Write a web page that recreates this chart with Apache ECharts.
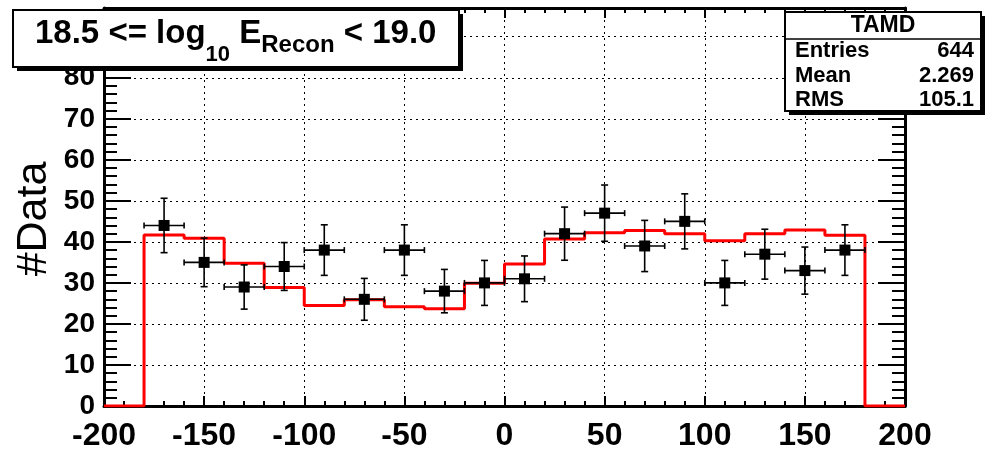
<!DOCTYPE html>
<html>
<head>
<meta charset="utf-8">
<script src="https://cdn.jsdelivr.net/npm/echarts@6/dist/echarts.min.js"></script>
<style>
  html, body { margin: 0; padding: 0; background: #ffffff; }
  #chart { width: 990px; height: 461px; }
</style>
</head>
<body>
<div id="chart"></div>
<script>
// Measured counts per bin (points with Poisson errors)
const binCenters = [-170, -150, -130, -110, -90, -70, -50, -30, -10, 10, 30, 50, 70, 90, 110, 130, 150, 170];
const dataCounts = [44, 35, 29, 34, 38, 26, 38, 28, 30, 31, 42, 47, 39, 45, 30, 37, 33, 38];
const dataErrors = [6.63, 5.92, 5.39, 5.83, 6.16, 5.10, 6.16, 5.29, 5.48, 5.57, 6.48, 6.86, 6.24, 6.71, 5.48, 6.08, 5.74, 6.16];
const binHalfWidth = 10;

// Simulated expectation, histogram bins given by their lower edges
const mcLowEdges = [-200, -180, -160, -140, -120, -100, -80, -60, -40, -20, 0, 20, 40, 60, 80, 100, 120, 140, 160, 180];
const mcCounts = [0, 41.7, 40.9, 34.8, 28.9, 24.5, 25.9, 24.2, 23.7, 29.9, 34.6, 40.7, 42.2, 42.8, 42.0, 40.3, 42.0, 42.9, 41.6, 0];
const mcUpperEdge = 200;

// Axis tick labels
const xTickLabels = [-200, -150, -100, -50, 0, 50, 100, 150, 200];
const yTickLabels = [0, 10, 20, 30, 40, 50, 60, 70, 80];

// Statistics box
const statsTitle = 'TAMD';
const statsRows = [['Entries', '644'], ['Mean', '2.269'], ['RMS', '105.1']];

const FONT = '"Liberation Sans", Arial, Helvetica, sans-serif';

const histLine = mcLowEdges.map((x, i) => [x, mcCounts[i]]);
histLine.push([mcUpperEdge, 0]);

const points = binCenters.map((x, i) => [x, dataCounts[i], dataErrors[i]]);

const chart = echarts.init(document.getElementById('chart'), null, { renderer: 'canvas' });

const tickCommon = { inside: true, lineStyle: { color: '#000', width: 2 } };
const OVER = 100; // drawing order for the boxes above the frame

const option = {
  animation: false,
  backgroundColor: '#ffffff',
  grid: { left: 104, right: 85, top: 8, bottom: 55, containLabel: false },
  xAxis: [
    {
      type: 'value', min: -200, max: 200, interval: 50, position: 'bottom',
      axisLine: { show: true, onZero: false, lineStyle: { color: '#000', width: 3 } },
      axisTick: Object.assign({ length: 10 }, tickCommon),
      minorTick: { show: true, splitNumber: 5, length: 5, lineStyle: { color: '#000', width: 2 } },
      splitLine: { show: true, lineStyle: { color: '#000', width: 1, type: [2, 4] } },
      axisLabel: {
        show: true, margin: 14, color: '#000', fontFamily: FONT, fontWeight: 'bold', fontSize: 32,
        formatter: v => (xTickLabels.indexOf(v) >= 0 ? String(v) : '')
      }
    },
    {
      type: 'value', min: -200, max: 200, interval: 50, position: 'top',
      axisLine: { show: true, onZero: false, lineStyle: { color: '#000', width: 3 } },
      axisTick: Object.assign({ length: 10 }, tickCommon),
      minorTick: { show: true, splitNumber: 5, length: 5, lineStyle: { color: '#000', width: 2 } },
      splitLine: { show: false },
      axisLabel: { show: false }
    }
  ],
  yAxis: [
    {
      type: 'value', min: 0, max: 97, interval: 10, position: 'left',
      axisLine: { show: true, onZero: false, lineStyle: { color: '#000', width: 3 } },
      axisTick: Object.assign({ length: 27 }, tickCommon),
      minorTick: { show: true, splitNumber: 5, length: 13, lineStyle: { color: '#000', width: 2 } },
      splitLine: { show: true, lineStyle: { color: '#000', width: 1, type: [2, 4] } },
      axisLabel: {
        show: true, margin: 9, color: '#000', fontFamily: FONT, fontWeight: 'bold', fontSize: 28,
        showMaxLabel: false,
        formatter: v => (yTickLabels.indexOf(v) >= 0 ? String(v) : '')
      }
    },
    {
      type: 'value', min: 0, max: 97, interval: 10, position: 'right',
      axisLine: { show: true, onZero: false, lineStyle: { color: '#000', width: 3 } },
      axisTick: Object.assign({ length: 27 }, tickCommon),
      minorTick: { show: true, splitNumber: 5, length: 13, lineStyle: { color: '#000', width: 2 } },
      splitLine: { show: false },
      axisLabel: { show: false }
    }
  ],
  series: [
    {
      name: 'simulation', type: 'line', step: 'end', data: histLine,
      xAxisIndex: 0, yAxisIndex: 0,
      showSymbol: false, symbol: 'none',
      lineStyle: { color: '#ff0000', width: 3 },
      z: 3
    },
    {
      name: 'errors', type: 'custom', data: points,
      xAxisIndex: 0, yAxisIndex: 0,
      encode: { x: 0, y: 1 },
      z: 4,
      renderItem: function (params, api) {
        const x = api.value(0), y = api.value(1), e = api.value(2);
        const c = api.coord([x, y]);
        const top = api.coord([x, y + e])[1];
        const bot = api.coord([x, y - e])[1];
        const left = api.coord([x - binHalfWidth, y])[0];
        const right = api.coord([x + binHalfWidth, y])[0];
        const st = { stroke: '#000', lineWidth: 1.6 };
        const cw = 3.5, ch = 3;
        return {
          type: 'group',
          children: [
            { type: 'line', shape: { x1: c[0], y1: top, x2: c[0], y2: bot }, style: st },
            { type: 'line', shape: { x1: c[0] - cw, y1: top, x2: c[0] + cw, y2: top }, style: st },
            { type: 'line', shape: { x1: c[0] - cw, y1: bot, x2: c[0] + cw, y2: bot }, style: st },
            { type: 'line', shape: { x1: left, y1: c[1], x2: right, y2: c[1] }, style: st },
            { type: 'line', shape: { x1: left, y1: c[1] - ch, x2: left, y2: c[1] + ch }, style: st },
            { type: 'line', shape: { x1: right, y1: c[1] - ch, x2: right, y2: c[1] + ch }, style: st }
          ]
        };
      }
    },
    {
      name: 'data', type: 'scatter', data: points.map(p => [p[0], p[1]]),
      xAxisIndex: 0, yAxisIndex: 0,
      symbol: 'rect', symbolSize: 11,
      itemStyle: { color: '#000', opacity: 1 },
      z: 5
    }
  ],
  graphic: [
    // y axis title
    {
      type: 'text', x: 34, y: 219, rotation: Math.PI / 2, z: 50,
      style: {
        text: '#Data', fill: '#000', font: '43px ' + FONT,
        align: 'center', verticalAlign: 'middle'
      }
    },
    // title pave with shadow
    { type: 'rect', z: OVER, shape: { x: 17, y: 14, width: 446, height: 57 }, style: { fill: '#000' } },
    { type: 'rect', z: OVER, shape: { x: 13, y: 10, width: 446, height: 57 }, style: { fill: '#fff', stroke: '#000', lineWidth: 2 } },
    {
      type: 'text', z: OVER, x: 35, y: 17,
      style: {
        text: '{m|18.5 <= log}{s1|10}{m| E}{s2|Recon}{m| < 19.0}',
        align: 'left', verticalAlign: 'top',
        rich: {
          m: { fontFamily: FONT, fontWeight: 'bold', fontSize: 33, lineHeight: 33, verticalAlign: 'top', fill: '#000' },
          s1: { fontFamily: FONT, fontWeight: 'bold', fontSize: 22, lineHeight: 22, verticalAlign: 'top', padding: [27, 0, 0, 0], fill: '#000' },
          s2: { fontFamily: FONT, fontWeight: 'bold', fontSize: 24, lineHeight: 24, verticalAlign: 'top', padding: [16, 0, 0, 0], fill: '#000' }
        }
      }
    },
    // statistics box with shadow
    { type: 'rect', z: OVER, shape: { x: 789, y: 16, width: 196, height: 99 }, style: { fill: '#000' } },
    { type: 'rect', z: OVER, shape: { x: 785, y: 12, width: 196, height: 99 }, style: { fill: '#fff', stroke: '#000', lineWidth: 2 } },
    { type: 'line', z: OVER, shape: { x1: 785, y1: 39, x2: 981, y2: 39 }, style: { stroke: '#000', lineWidth: 1.5 } },
    {
      type: 'text', z: OVER, x: 883, y: 26,
      style: { text: statsTitle, font: 'bold 23px ' + FONT, fill: '#000', align: 'center', verticalAlign: 'middle' }
    }
  ].concat(statsRows.flatMap((r, i) => {
    const yc = [51, 76, 100][i];
    return [
      { type: 'text', z: OVER, x: 795, y: yc, style: { text: r[0], font: 'bold 22px ' + FONT, fill: '#000', align: 'left', verticalAlign: 'middle' } },
      { type: 'text', z: OVER, x: 974, y: yc, style: { text: r[1], font: 'bold 22px ' + FONT, fill: '#000', align: 'right', verticalAlign: 'middle' } }
    ];
  }))
};

chart.setOption(option);
</script>
</body>
</html>
